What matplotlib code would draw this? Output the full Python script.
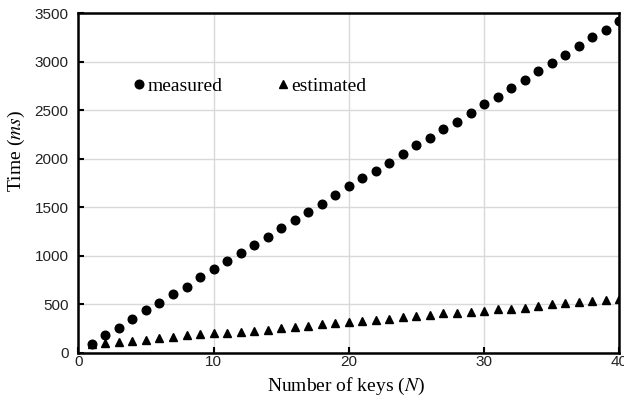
import numpy as np
import matplotlib.pyplot as plt

# number of keys
keys = [1, 2, 3, 4, 5, 6, 7, 8, 9, 10,
        11, 12, 13, 14, 15, 16, 17, 18, 19, 20,
        21, 22, 23, 24, 25, 26, 27, 28, 29, 30,
        31, 32, 33, 34, 35, 36, 37, 38, 39, 40]

# measured time (ms)
measured = [92, 180, 257, 349, 438, 513, 602, 681, 778, 864,
            941, 1030, 1109, 1198, 1288, 1366, 1456, 1533, 1626, 1716,
            1797, 1879, 1961, 2046, 2139, 2215, 2307, 2382, 2474, 2564,
            2642, 2731, 2813, 2902, 2991, 3070, 3162, 3252, 3326, 3419]

# estimated time (ms)
estimated = [88, 96, 111, 123, 133, 149, 162, 178, 188, 200,
             206, 214, 226, 239, 251, 262, 276, 291, 302, 316,
             332, 342, 352, 366, 377, 393, 407, 411, 424, 433,
             449, 455, 465, 483, 500, 510, 524, 537, 547, 554]

plt.rcParams['font.family'] = 'Liberation Sans'
plt.rcParams['mathtext.fontset'] = 'stix'

fig = plt.figure(figsize=(6.24, 4.03), dpi=100)
ax = fig.add_axes([0.1255, 0.1248, 0.867, 0.842])

ax.plot(keys, measured, 'o', color='black', markersize=6.2, label='measured')
ax.plot(keys, estimated, '^', color='black', markersize=6.2, label='estimated')

ax.set_xlim(0, 40)
ax.set_ylim(0, 3500)
ax.set_xticks([0, 10, 20, 30, 40])
ax.set_yticks(np.arange(0, 3501, 500))
ax.grid(color='#d9d9d9', linewidth=1)
ax.set_axisbelow(True)

for s in ax.spines.values():
    s.set_linewidth(1.8)
    s.set_color('black')

ax.tick_params(direction='in', length=4, width=1.5, labelsize=11,
               labelcolor='#222222')
ax.tick_params(axis='x', pad=2)
ax.tick_params(axis='y', pad=7)

serif = {'family': 'Liberation Serif', 'size': 14}
ax.set_xlabel('Number of keys ($N$)', fontdict=serif)
ax.set_ylabel('Time ($ms$)', fontdict=serif)
ax.xaxis.set_label_coords(0.494, -0.068)
ax.yaxis.set_label_coords(-0.094, 0.595)

leg = ax.legend(loc='center left', bbox_to_anchor=(0.103, 0.785), ncol=2,
                frameon=False, handlelength=0.5, handletextpad=0.2,
                columnspacing=2.85, borderaxespad=0, borderpad=0,
                prop=serif)

fig.savefig('out.png', dpi=100)
